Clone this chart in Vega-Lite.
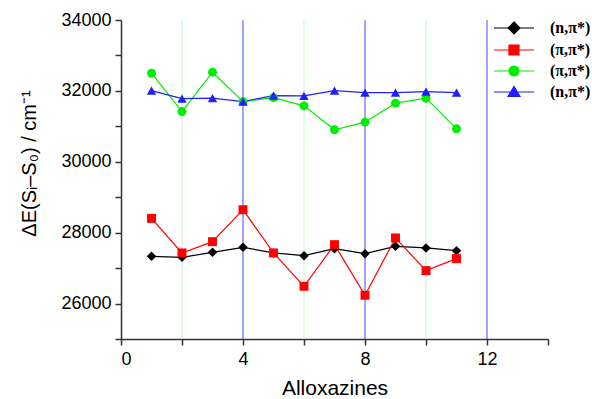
{
  "$schema": "https://vega.github.io/schema/vega-lite/v6.json",
  "width": 427,
  "height": 319,
  "autosize": "none",
  "padding": {"left": 121, "top": 20, "right": 44, "bottom": 60},
  "background": "white",
  "config": {"view": {"stroke": null}, "font": "Liberation Sans"},
  "datasets": {
    "main": [
      {"x": 1, "y": 27332, "s": "A"}, {"x": 2, "y": 27304, "s": "A"}, {"x": 3, "y": 27445, "s": "A"}, {"x": 4, "y": 27586, "s": "A"}, {"x": 5, "y": 27428, "s": "A"}, {"x": 6, "y": 27352, "s": "A"}, {"x": 7, "y": 27549, "s": "A"}, {"x": 8, "y": 27408, "s": "A"}, {"x": 9, "y": 27614, "s": "A"}, {"x": 10, "y": 27569, "s": "A"}, {"x": 11, "y": 27493, "s": "A"},
      {"x": 1, "y": 28403, "s": "B"}, {"x": 2, "y": 27428, "s": "B"}, {"x": 3, "y": 27746, "s": "B"}, {"x": 4, "y": 28648, "s": "B"}, {"x": 5, "y": 27428, "s": "B"}, {"x": 6, "y": 26487, "s": "B"}, {"x": 7, "y": 27662, "s": "B"}, {"x": 8, "y": 26234, "s": "B"}, {"x": 9, "y": 27851, "s": "B"}, {"x": 10, "y": 26930, "s": "B"}, {"x": 11, "y": 27268, "s": "B"},
      {"x": 1, "y": 32499, "s": "C"}, {"x": 2, "y": 31417, "s": "C"}, {"x": 3, "y": 32527, "s": "C"}, {"x": 4, "y": 31699, "s": "C"}, {"x": 5, "y": 31811, "s": "C"}, {"x": 6, "y": 31577, "s": "C"}, {"x": 7, "y": 30901, "s": "C"}, {"x": 8, "y": 31118, "s": "C"}, {"x": 9, "y": 31654, "s": "C"}, {"x": 10, "y": 31794, "s": "C"}, {"x": 11, "y": 30930, "s": "C"},
      {"x": 1, "y": 32009, "s": "D"}, {"x": 2, "y": 31783, "s": "D"}, {"x": 3, "y": 31794, "s": "D"}, {"x": 4, "y": 31699, "s": "D"}, {"x": 5, "y": 31868, "s": "D"}, {"x": 6, "y": 31859, "s": "D"}, {"x": 7, "y": 32009, "s": "D"}, {"x": 8, "y": 31952, "s": "D"}, {"x": 9, "y": 31952, "s": "D"}, {"x": 10, "y": 31980, "s": "D"}, {"x": 11, "y": 31952, "s": "D"}
    ],
    "gridGreen": [{"x": 2}, {"x": 6}, {"x": 10}],
    "gridBlue": [{"x": 4}, {"x": 8}, {"x": 12}]
  },
  "encoding": {
    "x": {
      "field": "x", "type": "quantitative",
      "scale": {"domain": [0, 14], "nice": false, "zero": false},
      "axis": {
        "values": [0, 2, 4, 6, 8, 10, 12, 14],
        "labelExpr": "datum.value % 4 === 0 && datum.value < 14 ? datum.label : ''",
        "grid": false,
        "domainColor": "#333333", "domainWidth": 1.5,
        "tickColor": "#333333", "tickSize": 6, "tickWidth": 1.5,
        "labelFontSize": 18, "labelColor": "#000000", "labelPadding": 5,
        "title": "Alloxazines", "titleFontSize": 21, "titleFontWeight": "normal", "titleColor": "#000000", "titlePadding": 9
      }
    }
  },
  "layer": [
    {
      "data": {"name": "gridGreen"},
      "mark": {"type": "rule", "color": "#c4f5c4", "strokeWidth": 1},
      "encoding": {}
    },
    {
      "data": {"name": "gridBlue"},
      "mark": {"type": "rule", "color": "#4848ff", "strokeWidth": 1},
      "encoding": {}
    },
    {
      "data": {"name": "main"},
      "encoding": {
        "y": {
          "field": "y", "type": "quantitative",
          "scale": {"domain": [25000, 34000], "nice": false, "zero": false},
          "axis": {
            "values": [25000, 26000, 27000, 28000, 29000, 30000, 31000, 32000, 33000, 34000],
            "format": "d",
            "labelExpr": "datum.value % 2000 === 0 ? datum.label : ''",
            "grid": false,
            "domainColor": "#333333", "domainWidth": 1.5,
            "tickColor": "#333333", "tickSize": 6, "tickWidth": 1.5,
            "labelFontSize": 18, "labelColor": "#000000", "labelPadding": 4,
            "title": "ΔE(Sᵢ–S₀) / cm⁻¹", "titleFontSize": 20, "titleFontWeight": "normal", "titleColor": "#000000",
            "titleAngle": -90, "titleBaseline": "middle", "titleAlign": "center", "titleX": -92, "titleY": 143
          }
        },
        "color": {
          "field": "s", "type": "nominal",
          "scale": {"domain": ["A", "B", "C", "D"], "range": ["#000000", "#ff0000", "#00ee00", "#2020ff"]},
          "legend": {
            "orient": "none", "legendX": 382, "legendY": -3, "title": null, "padding": 0,
            "labelExpr": "{'A': '(n,π*)', 'B': '(π,π*)', 'C': '(π,π*)', 'D': '(n,π*)'}[datum.value]",
            "labelFont": "Liberation Serif", "labelFontWeight": "bold", "labelFontSize": 16, "labelColor": "#000000",
            "symbolSize": 400, "labelOffset": 25, "rowPadding": 2,
            "encode": {
              "symbols": {
                "update": {
                  "shape": {"signal": "datum.value === 'A' ? 'M-2,0L2,0M0,-0.6L0.6,0L0,0.6L-0.6,0Z' : datum.value === 'B' ? 'M-2,0L2,0M-0.5,-0.5L0.5,-0.5L0.5,0.5L-0.5,0.5Z' : datum.value === 'C' ? 'M-2,0L2,0M0.5,0A0.5,0.5,0,1,1,-0.5,0A0.5,0.5,0,1,1,0.5,0Z' : 'M-2,0L2,0M0,-0.55L0.6,0.45L-0.6,0.45Z'"},
                  "fill": {"signal": "scale('color', datum.value)"},
                  "stroke": {"signal": "scale('color', datum.value)"},
                  "strokeWidth": {"value": 1.2},
                  "opacity": {"value": 1},
                  "fillOpacity": {"value": 1},
                  "strokeOpacity": {"value": 1}
                }
              }
            }
          }
        }
      },
      "layer": [
        {"mark": {"type": "line", "strokeWidth": 1.2}},
        {"transform": [{"filter": "datum.s === 'A'"}], "mark": {"type": "point", "filled": true, "opacity": 1, "size": 90, "shape": "diamond"}},
        {"transform": [{"filter": "datum.s === 'B'"}], "mark": {"type": "point", "filled": true, "opacity": 1, "size": 80, "shape": "square"}},
        {"transform": [{"filter": "datum.s === 'C'"}], "mark": {"type": "point", "filled": true, "opacity": 1, "size": 80, "shape": "circle"}},
        {"transform": [{"filter": "datum.s === 'D'"}], "mark": {"type": "point", "filled": true, "opacity": 1, "size": 90, "shape": "triangle-up"}}
      ]
    }
  ]
}
